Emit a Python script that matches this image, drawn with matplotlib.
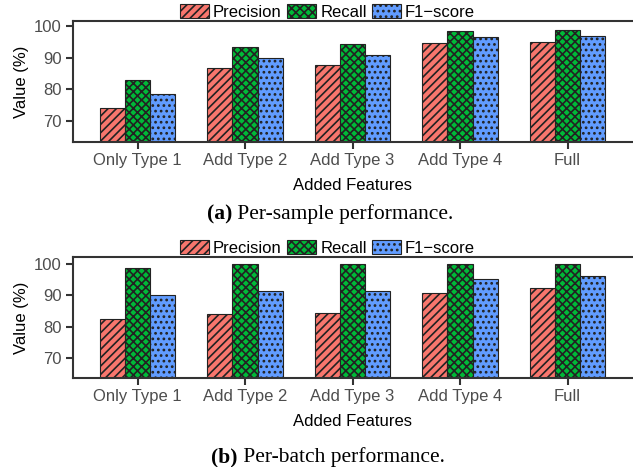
import numpy as np
import matplotlib
matplotlib.use("Agg")
import matplotlib.pyplot as plt
from matplotlib.patches import Patch

# Data
features = ["Only Type 1", "Add Type 2", "Add Type 3", "Add Type 4", "Full"]
metrics = ["Precision", "Recall", "F1\u2212score"]

sample_precision = [74.1, 86.6, 87.6, 94.7, 94.9]
sample_recall = [82.9, 93.4, 94.3, 98.3, 98.7]
sample_f1 = [78.4, 89.8, 90.7, 96.5, 96.8]

batch_precision = [82.5, 83.9, 84.4, 90.6, 92.4]
batch_recall = [98.8, 100.0, 100.0, 100.0, 100.0]
batch_f1 = [90.0, 91.4, 91.5, 95.1, 96.2]

colors = ["#F8766D", "#00BA38", "#619CFF"]
hatches = ["////", "xxxx", "..."]

plt.rcParams["font.family"] = ["Liberation Sans", "DejaVu Sans"]
plt.rcParams["hatch.linewidth"] = 1.2

fig = plt.figure(figsize=(6.33, 4.67), dpi=100)

W, H = 633, 467
FS = 12


def panel(rect, series, ylim, caption_label, caption_text, caption_x, caption_y):
    left, top, right, bottom = rect
    ax = fig.add_axes([left / W, 1 - bottom / H, (right - left) / W, (bottom - top) / H])
    x = np.arange(1, len(features) + 1)
    width = 0.7 / 3
    for i, vals in enumerate(series):
        ax.bar(x + (i - 1) * width, vals, width, color=colors[i], hatch=hatches[i],
               edgecolor="#222222", linewidth=0.8, zorder=2)
    ax.set_xlim(0.4, 5.6)
    ax.set_ylim(*ylim)
    ax.set_xticks(x)
    ax.set_xticklabels(features)
    ax.set_yticks([70, 80, 90, 100])
    ax.tick_params(axis="both", colors="#333333", labelcolor="#4D4D4D",
                   labelsize=FS, length=5, width=1.5, pad=3)
    for s in ["left", "bottom", "top"]:
        ax.spines[s].set_color("#333333")
        ax.spines[s].set_linewidth(1.5)
    ax.spines["right"].set_visible(False)
    ax.set_xlabel("Added Features", fontsize=FS, labelpad=7)
    ax.set_ylabel("Value (%)", fontsize=FS, labelpad=4)

    handles = [Patch(facecolor=colors[i], hatch=hatches[i], edgecolor="#222222",
                     linewidth=0.8, label=metrics[i]) for i in range(3)]
    ax.legend(handles=handles, loc="lower center", bbox_to_anchor=(0.455, 1.005),
              ncol=3, frameon=False, fontsize=FS, handlelength=1.75,
              handleheight=0.95, handletextpad=0.25, columnspacing=0.3,
              borderaxespad=0, borderpad=0.05)

    fig.text(caption_x / W, 1 - caption_y / H, caption_label, fontsize=15.5,
             family="Liberation Serif", fontweight="bold", ha="right", va="center")
    fig.text(caption_x / W, 1 - caption_y / H, " " + caption_text, fontsize=15.5,
             family="Liberation Serif", ha="left", va="center")
    return ax


panel((73, 21, 632, 142), [sample_precision, sample_recall, sample_f1],
      (63.2, 101.6), "(a)", "Per-sample performance.", 232, 214)
panel((73, 257, 632, 378), [batch_precision, batch_recall, batch_f1],
      (63.6, 102.2), "(b)", "Per-batch performance.", 238, 457)

fig.savefig("out.png", dpi=100)
